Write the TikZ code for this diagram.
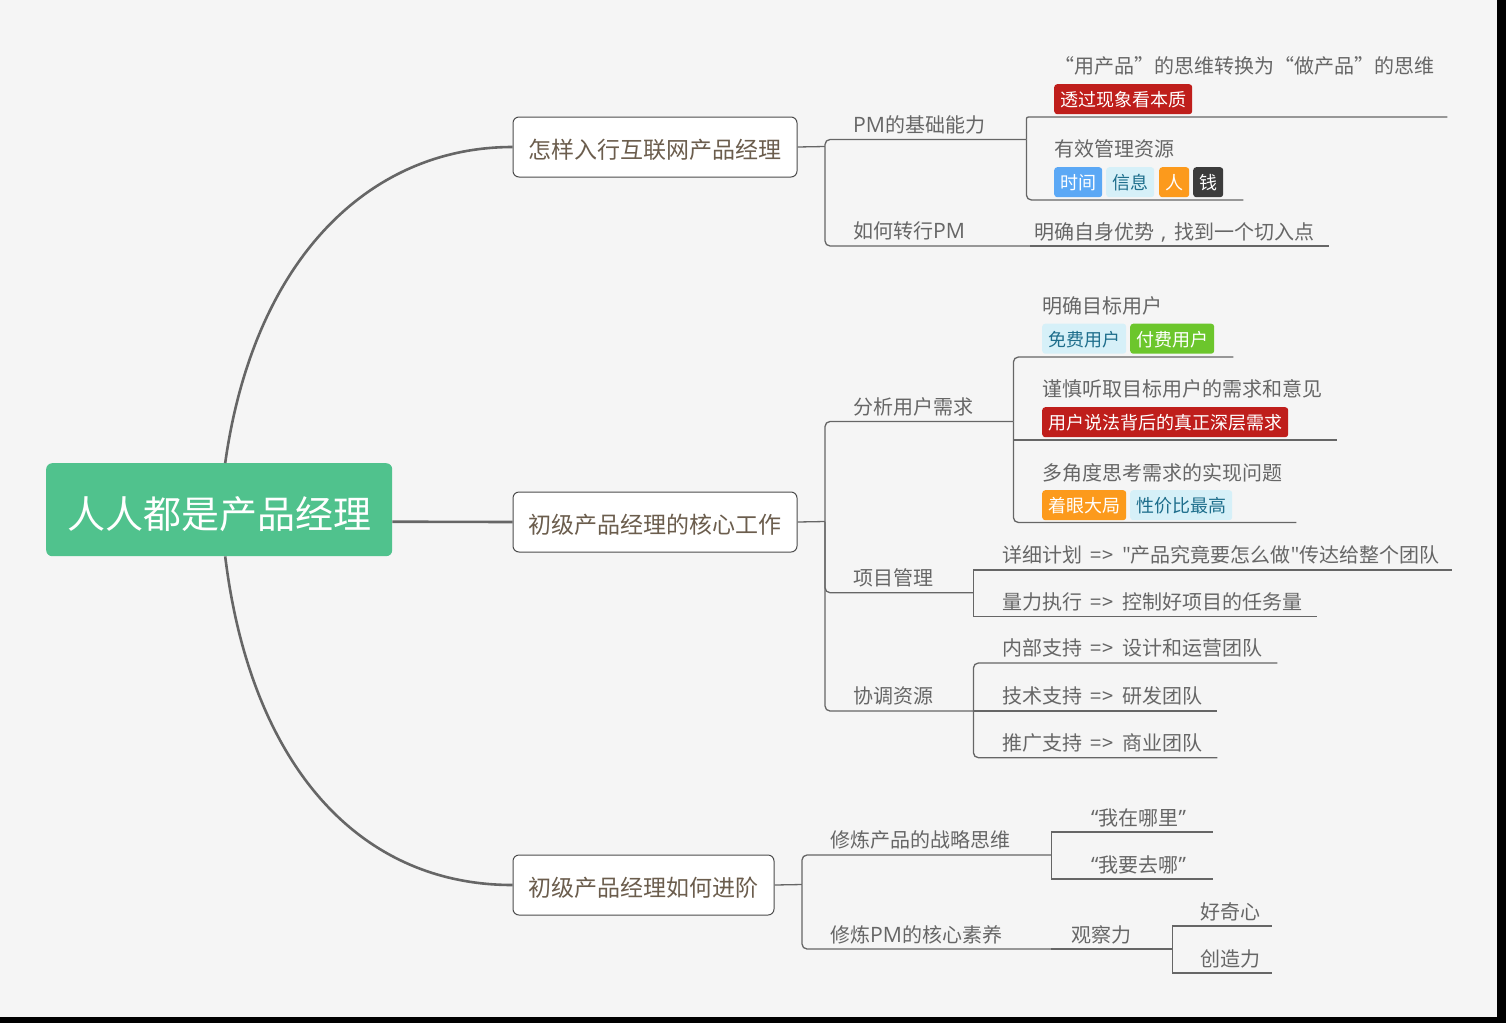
\documentclass[tikz,border=0pt]{standalone}
\usepackage{fontspec}
\setmainfont{Noto Sans CJK SC}
\newfontfamily\latf[Scale=1.06]{Open Sans}
\definecolor{bgc}{HTML}{F5F5F5}
\definecolor{linec}{HTML}{666666}
\definecolor{textc}{HTML}{666666}
\definecolor{brownc}{HTML}{6B5D4D}
\definecolor{rootc}{HTML}{50C28D}
\definecolor{redc}{HTML}{BF1E1B}
\definecolor{bluec}{HTML}{5BA8F5}
\definecolor{paleb}{HTML}{D6F0F8}
\definecolor{paleT}{HTML}{1E6E8C}
\definecolor{orangec}{HTML}{FC9A1C}
\definecolor{darkc}{HTML}{3C3C3C}
\definecolor{greenc}{HTML}{6CC62C}
\tikzset{
  mainline/.style={draw=linec,line width=2.6pt},
  conn/.style={draw=linec,line width=1.3pt},
  connr/.style={conn,rounded corners=5pt},
  topicnode/.style={inner sep=0pt,anchor=south west,align=left,text=textc,font=\fontsize{20pt}{24pt}\selectfont},
  boxnode/.style={rectangle,rounded corners=6pt,draw=black!70,line width=1pt,fill=white,text=brownc,inner sep=0pt,anchor=north west,font=\fontsize{23pt}{28pt}\selectfont},
  tagnode/.style={rectangle,rounded corners=3pt,inner sep=0pt,anchor=north west,font=\fontsize{18pt}{22pt}\selectfont}
}
\newcommand{\arr}{\kern8pt=\kern1.5pt>\kern8.5pt}
\newcommand{\pmtxt}{{\latf PM}}
% lowers text without changing the box that the node centres
\newcommand{\lowr}[2]{\raisebox{-#1}[\height][\depth]{#2}}
% name, x1, x2, y of underline, x of text, box height, text
\newcommand{\mtopic}[7]{%
  \pgfmathsetlengthmacro{\mtw}{(#3-#2)*1pt}%
  \pgfmathsetlengthmacro{\mto}{(#5-#2)*1pt}%
  \node[topicnode,text width=\mtw,minimum height=#6pt] (#1) at (#2,#4) {\hspace*{\mto}\lowr{1.2pt}{#7}};%
}
% name, x1, x2, y1, y2, text
\newcommand{\mlevel}[6]{%
  \pgfmathsetlengthmacro{\mtw}{(#3-#2)*1pt}%
  \pgfmathsetlengthmacro{\mth}{(#5-#4)*1pt}%
  \node[boxnode,minimum width=\mtw,minimum height=\mth] (#1) at (#2,#4) {\lowr{3pt}{#6}};%
}
% name, x1, x2, y1, fill, textcolor, text
\newcommand{\mtag}[7]{%
  \pgfmathsetlengthmacro{\mtw}{(#3-#2)*1pt}%
  \node[tagnode,minimum width=\mtw,minimum height=30pt,fill=#5,text=#6] (#1) at (#2,#4) {\lowr{0.7pt}{#7}};%
}
\begin{document}
\begin{tikzpicture}[x=1pt,y=-1pt]
\useasboundingbox (0,0) rectangle (1506,1023);
\fill[black] (0,0) rectangle (1506,1023);
\fill[bgc] (0,0) rectangle (1497,1017);

% root
\node[rectangle,rounded corners=6pt,fill=rootc,text=white,inner sep=0pt,minimum width=346pt,minimum height=93pt,anchor=north west,font=\fontsize{38pt}{44pt}\selectfont] (root) at (46,463) {\lowr{4pt}{人人都是产品经理}};

% level one
\mlevel{boxa}{512.5}{796.5}{116.5}{176.5}{怎样入行互联网产品经理}
\mlevel{boxb}{512.5}{796.5}{491.5}{551.5}{初级产品经理的核心工作}
\mlevel{boxc}{512.5}{773.5}{854.5}{914.5}{初级产品经理如何进阶}

\draw[mainline] ([xshift=6pt]root.north) .. controls (254,258) and (370,147) .. (boxa.west);
\draw[mainline] ([yshift=-12pt]root.east) -- (boxb.west);
\draw[mainline] ([xshift=6pt]root.south) .. controls (250,760) and (355,885) .. (boxc.west);

% buses
\coordinate (busa) at (825,146.5);
\coordinate (busb) at (825,521.5);
\coordinate (busc) at (802,884.5);
\draw[conn] (boxa.east) -- (busa);
\draw[conn] (boxb.east) -- (busb);
\draw[conn] (boxc.east) -- (busc);

% branch A
\mtopic{pmbase}{825}{1026}{139.5}{853}{32}{\pmtxt 的基础能力}
\mtopic{zhuan}{825}{1030}{246}{853}{32}{如何转行\pmtxt}
\mtopic{yong}{1026}{1447}{117}{1054}{104}{“用产品”的思维转换为“做产品”的思维}
\mtopic{ziyuan}{1026}{1243}{200}{1054}{104}{有效管理资源}
\mtopic{mingque}{1030}{1329}{246}{1034}{30}{明确自身优势\kern7pt{\latf,}\kern8pt 找到一个切入点}
\mtag{t1}{1054}{1192}{84}{redc}{white}{透过现象看本质}
\mtag{t2}{1054}{1102}{167}{bluec}{white}{时间}
\mtag{t3}{1106}{1154}{167}{paleb}{paleT}{信息}
\mtag{t4}{1159}{1189}{167}{orangec}{white}{人}
\mtag{t5}{1193}{1223}{167}{darkc}{white}{钱}
\draw[connr] (busa) |- (pmbase.south east);
\draw[connr] (busa) |- (zhuan.south east);
\draw[conn,rounded corners=2pt] (pmbase.south east) |- (yong.south east);
\draw[connr] (pmbase.south east) |- (ziyuan.south east);
\draw[conn] (zhuan.south east) -- (mingque.south east);

% branch B
\mtopic{fenxi}{825}{1013}{421.5}{853}{32}{分析用户需求}
\mtopic{xiangmu}{825}{973}{592.7}{853}{32}{项目管理}
\mtopic{xietiao}{825}{973}{711}{853}{32}{协调资源}
\draw[connr] (busb) |- (fenxi.south east);
\draw[connr] (busb) |- (xiangmu.south east);
\draw[connr] (busb) |- (xietiao.south east);

\mtopic{mubiao}{1013}{1233}{357}{1042}{104}{明确目标用户}
\mtopic{jinshen}{1013}{1337}{440}{1042}{104}{谨慎听取目标用户的需求和意见}
\mtopic{duojiao}{1013}{1296}{522.5}{1042}{102}{多角度思考需求的实现问题}
\mtag{t6}{1042}{1126}{323.5}{paleb}{paleT}{免费用户}
\mtag{t7}{1130}{1214}{323.5}{greenc}{white}{付费用户}
\mtag{t8}{1042}{1288}{407}{redc}{white}{用户说法背后的真正深层需求}
\mtag{t9}{1042}{1126}{490}{orangec}{white}{着眼大局}
\mtag{t10}{1130}{1232}{490}{paleb}{paleT}{性价比最高}
\draw[connr] (fenxi.south east) |- (mubiao.south east);
\draw[conn] (fenxi.south east) |- (jinshen.south east);
\draw[connr] (fenxi.south east) |- (duojiao.south east);

\mtopic{xiangxi}{973}{1452}{570}{1002}{32}{详细计划\arr{\latf"}产品究竟要怎么做{\latf"}传达给整个团队}
\mtopic{liangli}{973}{1317}{616.7}{1002}{32}{量力执行\arr 控制好项目的任务量}
\draw[conn] (xiangmu.south east) |- (xiangxi.south east);
\draw[conn] (xiangmu.south east) |- (liangli.south east);

\mtopic{neibu}{973}{1277}{663}{1002}{32}{内部支持\arr 设计和运营团队}
\mtopic{jishu}{973}{1217}{711}{1002}{32}{技术支持\arr 研发团队}
\mtopic{tuiguang}{973}{1217}{757.7}{1002}{32}{推广支持\arr 商业团队}
\draw[connr] (xietiao.south east) |- (neibu.south east);
\draw[conn] (xietiao.south east) -- (jishu.south east);
\draw[connr] (xietiao.south east) |- (tuiguang.south east);

% branch C
\mtopic{zhanlue}{802}{1051}{855}{830}{32}{修炼产品的战略思维}
\mtopic{suyang}{802}{1051}{949}{830}{30}{修炼\pmtxt 的核心素养}
\draw[connr] (busc) |- (zhanlue.south east);
\draw[connr] (busc) |- (suyang.south east);
\mtopic{zai}{1051}{1213}{832}{1091}{30}{{\latf “}我在哪里{\latf ”}}
\mtopic{qu}{1051}{1213}{879}{1091}{30}{{\latf “}我要去哪{\latf ”}}
\draw[conn] (zhanlue.south east) |- (zai.south east);
\draw[conn] (zhanlue.south east) |- (qu.south east);
\mtopic{guancha}{1051}{1172}{949}{1071}{30}{观察力}
\draw[conn] (suyang.south east) -- (guancha.south east);
\mtopic{haoqi}{1172}{1272}{926}{1200}{30}{好奇心}
\mtopic{chuangzao}{1172}{1272}{973}{1200}{30}{创造力}
\draw[conn] (guancha.south east) |- (haoqi.south east);
\draw[conn] (guancha.south east) |- (chuangzao.south east);
\end{tikzpicture}
\end{document}
